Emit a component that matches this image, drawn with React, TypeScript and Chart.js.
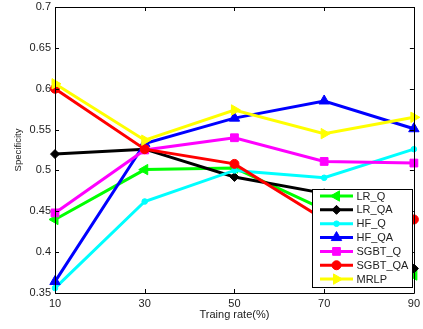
import React, { useEffect, useRef } from "react";
import { Chart, registerables } from "chart.js";

Chart.register(...registerables);

const categories = ["10", "30", "50", "70", "90"];
const yTicks = [0.35, 0.4, 0.45, 0.5, 0.55, 0.6, 0.65, 0.7];

const lrQ = [0.44, 0.501, 0.503, 0.452, 0.372];
const lrQA = [0.52, 0.526, 0.492, 0.472, 0.38];
const hfQ = [0.356, 0.462, 0.5, 0.491, 0.526];
const hfQA = [0.364, 0.533, 0.564, 0.585, 0.551];
const sgbtQ = [0.448, 0.525, 0.54, 0.511, 0.509];
const sgbtQA = [0.6, 0.526, 0.508, 0.44, 0.44];
const mrlp = [0.606, 0.537, 0.574, 0.545, 0.565];

const seriesNames = ["LR_Q", "LR_QA", "HF_Q", "HF_QA", "SGBT_Q", "SGBT_QA", "MRLP"];

const FONT = "'Liberation Sans', Arial, Helvetica, sans-serif";

type Sty = { color: string; style: string; rot: number; r: number };
const styles: Sty[] = [
  { color: "#00ff00", style: "triangle", rot: -90, r: 6 },
  { color: "#000000", style: "rectRot", rot: 0, r: 4.5 },
  { color: "#00ffff", style: "circle", rot: 0, r: 2.8 },
  { color: "#0000ff", style: "triangle", rot: 0, r: 6 },
  { color: "#ff00ff", style: "rect", rot: 0, r: 5.5 },
  { color: "#ff0000", style: "circle", rot: 0, r: 4.5 },
  { color: "#ffff00", style: "triangle", rot: 90, r: 6 },
];

const allData = [lrQ, lrQA, hfQ, hfQA, sgbtQ, sgbtQA, mrlp];

function drawPt(ctx: CanvasRenderingContext2D, s: Sty, x: number, y: number) {
  const r = s.r;
  ctx.beginPath();
  if (s.style === "circle") {
    ctx.arc(x, y, r, 0, Math.PI * 2);
  } else if (s.style === "rect") {
    const h = Math.SQRT1_2 * r;
    ctx.rect(x - h, y - h, 2 * h, 2 * h);
  } else if (s.style === "rectRot") {
    ctx.moveTo(x, y - r);
    ctx.lineTo(x + r, y);
    ctx.lineTo(x, y + r);
    ctx.lineTo(x - r, y);
    ctx.closePath();
  } else {
    let rad = (s.rot * Math.PI) / 180;
    ctx.moveTo(x + Math.sin(rad) * r, y - Math.cos(rad) * r);
    rad += (2 * Math.PI) / 3;
    ctx.lineTo(x + Math.sin(rad) * r, y - Math.cos(rad) * r);
    rad += (2 * Math.PI) / 3;
    ctx.lineTo(x + Math.sin(rad) * r, y - Math.cos(rad) * r);
    ctx.closePath();
  }
  ctx.fill();
  ctx.stroke();
}

const boxPlugin = {
  id: "matlabBox",
  afterDatasetsDraw(chart: any) {
    const { ctx, chartArea } = chart;
    const { left, right, top, bottom } = chartArea;
    const xs = chart.scales.x;
    const ys = chart.scales.y;
    const tl = 4;
    ctx.save();
    ctx.strokeStyle = "#000";
    ctx.lineWidth = 1;
    ctx.beginPath();
    ctx.rect(Math.round(left) + 0.5, Math.round(top) + 0.5, Math.round(right - left), Math.round(bottom - top));
    ctx.stroke();
    ctx.beginPath();
    categories.forEach((_, i) => {
      const px = Math.round(xs.getPixelForValue(i)) + 0.5;
      ctx.moveTo(px, bottom);
      ctx.lineTo(px, bottom - tl);
      ctx.moveTo(px, top);
      ctx.lineTo(px, top + tl);
    });
    yTicks.forEach((v) => {
      const py = Math.round(ys.getPixelForValue(v)) + 0.5;
      ctx.moveTo(left, py);
      ctx.lineTo(left + tl, py);
      ctx.moveTo(right, py);
      ctx.lineTo(right - tl, py);
    });
    ctx.stroke();
    ctx.restore();
  },
  afterDraw(chart: any) {
    const { ctx } = chart;
    const bx = 312.5, by = 189.5, bw = 100, bh = 98;
    ctx.save();
    ctx.fillStyle = "#fff";
    ctx.fillRect(bx, by, bw, bh);
    ctx.strokeStyle = "#000";
    ctx.lineWidth = 1;
    ctx.strokeRect(bx, by, bw, bh);
    const rowY0 = 196;
    const dy = 13.85;
    seriesNames.forEach((name, i) => {
      const s = styles[i];
      const y = rowY0 + i * dy;
      ctx.strokeStyle = s.color;
      ctx.lineWidth = 3;
      ctx.beginPath();
      ctx.moveTo(320, y);
      ctx.lineTo(353, y);
      ctx.stroke();
      ctx.fillStyle = s.color;
      ctx.strokeStyle = s.color;
      ctx.lineWidth = 1;
      drawPt(ctx, s, 336.5, y);
      ctx.fillStyle = "#222";
      ctx.font = `11px ${FONT}`;
      ctx.textBaseline = "middle";
      ctx.textAlign = "left";
      ctx.fillText(name, 356.5, y + 0.5);
    });
    ctx.restore();
  },
};

export default function App() {
  const ref = useRef<HTMLCanvasElement>(null);
  useEffect(() => {
    document.body.style.margin = "0";
    const datasets = seriesNames.map((name, i) => {
      const s = styles[i];
      return {
        label: name,
        data: allData[i],
        borderColor: s.color,
        backgroundColor: s.color,
        borderWidth: 3,
        pointStyle: s.style as any,
        pointRotation: s.rot,
        pointRadius: s.r,
        pointBorderWidth: 1,
        pointBackgroundColor: s.color,
        pointBorderColor: s.color,
        tension: 0,
        fill: false,
        clip: false as any,
        order: 7 - i,
      };
    });
    const chart = new Chart(ref.current!, {
      type: "line",
      data: { labels: categories, datasets },
      options: {
        animation: false,
        responsive: false,
        maintainAspectRatio: false,
        layout: { padding: { left: 0, right: 0, top: 0, bottom: 0 } },
        plugins: { legend: { display: false }, tooltip: { enabled: false } },
        scales: {
          x: {
            type: "category",
            offset: false,
            grid: { display: false, drawTicks: false },
            border: { display: false },
            ticks: { color: "#222", font: { family: FONT, size: 11 }, padding: 4, maxRotation: 0, autoSkip: false },
            title: { display: true, text: "Traing rate(%)", color: "#222", font: { family: FONT, size: 11 }, padding: { top: 0, bottom: 7 } },
            afterFit: (s: any) => { s.height = 36; },
          },
          y: {
            min: 0.35,
            max: 0.7,
            afterBuildTicks: (s: any) => { s.ticks = yTicks.map((v) => ({ value: v })); },
            grid: { display: false, drawTicks: false },
            border: { display: false },
            ticks: {
              color: "#222",
              font: { family: FONT, size: 11 },
              padding: 4,
              callback: (v: any) => String(+Number(v).toFixed(2)),
            },
            title: { display: true, text: "Specificity", color: "#222", font: { family: FONT, size: 9.5 }, padding: { top: 13, bottom: 0 } },
            afterFit: (s: any) => { s.width = 55; s.paddingTop = 6; s.paddingBottom = 0; },
          },
        },
      },
      plugins: [boxPlugin],
    });
    return () => chart.destroy();
  }, []);
  return (
    <div style={{ width: 423, height: 329, background: "#fff", overflow: "hidden" }}>
      <canvas ref={ref} width={424} height={329} style={{ display: "block" }} />
    </div>
  );
}
